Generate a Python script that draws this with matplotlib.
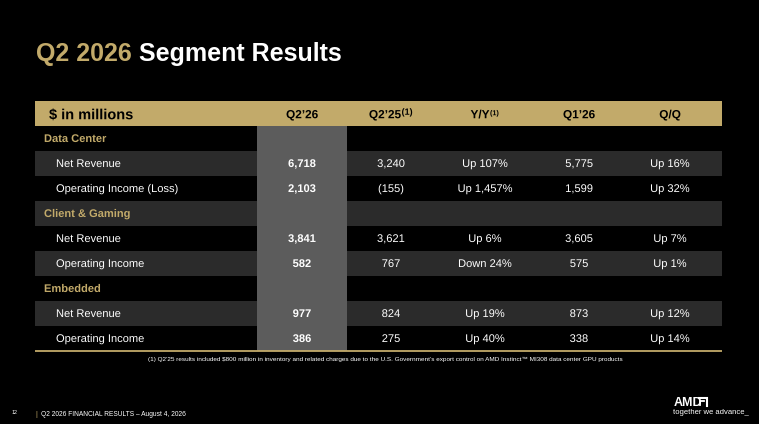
import matplotlib
matplotlib.use("Agg")
import matplotlib.pyplot as plt
import matplotlib.patheffects as pe
from matplotlib.patches import Rectangle

# ---- table data ----
segments = ["Data Center", "Client & Gaming", "Embedded"]
line_items = [
    ["Net Revenue", "Operating Income (Loss)"],
    ["Net Revenue", "Operating Income"],
    ["Net Revenue", "Operating Income"],
]
col_headers = ["Q2\u201926", "Q2\u201925", "Y/Y", "Q1\u201926", "Q/Q"]
col_notes = ["", "(1)", "(1)", "", ""]
q2_26 = ["6,718", "2,103", "3,841", "582", "977", "386"]
q2_25 = ["3,240", "(155)", "3,621", "767", "824", "275"]
yoy = ["Up 107%", "Up 1,457%", "Up 6%", "Down 24%", "Up 19%", "Up 40%"]
q1_26 = ["5,775", "1,599", "3,605", "575", "873", "338"]
qoq = ["Up 16%", "Up 32%", "Up 7%", "Up 1%", "Up 12%", "Up 14%"]
footnote = ("(1) Q2\u201925 results included $800 million in inventory and related charges due to "
            "the U.S. Government\u2019s export control on AMD Instinct\u2122 MI308 data center GPU products")

GOLD = "#c2aa6a"
ROW_GRAY = "#2b2b2b"
HILITE = "#5c5c5c"
FONT = "Liberation Sans"
# draw text as paths so baselines line up exactly
PATH = [pe.Normal()]

W, H = 759, 424
fig = plt.figure(figsize=(W / 100, H / 100), dpi=100, facecolor="black")
ax = fig.add_axes([0, 0, 1, 1])
ax.set_xlim(0, W)
ax.set_ylim(H, 0)
ax.axis("off")
ax.set_facecolor("black")


def cap(pt):
    # approx cap height in pixels for a given point size
    return pt * 100 / 72 * 0.716


# ---- title ----
tpt = 18
tb = 52 + cap(tpt) / 2
t1 = ax.text(36, tb, "Q2 2026", color=GOLD, fontsize=tpt, fontweight="bold",
             family=FONT, va="baseline", ha="left")
fig.canvas.draw()
bb = t1.get_window_extent().transformed(ax.transData.inverted())
ax.text(bb.x1 + 7, tb, "Segment Results", color="white", fontsize=tpt,
        fontweight="bold", family=FONT, va="baseline", ha="left")

# ---- table geometry ----
left, right = 35, 722
top, head_h, row_h = 101, 25, 25
col_x = [302, 391, 485, 579, 670]
hl_x0, hl_x1 = 257, 347

# header band
ax.add_patch(Rectangle((left, top), right - left, head_h, color=GOLD, lw=0))
hc = top + head_h / 2 + 0.5
ax.text(49, hc + cap(10.5) / 2, "$ in millions", fontsize=10.5, fontweight="bold",
        family=FONT, color="black", va="baseline", ha="left", path_effects=PATH)
hb = hc + cap(8.5) / 2
for x, lab, note in zip(col_x, col_headers, col_notes):
    t = ax.text(x, hb, lab, fontsize=8.5, fontweight="bold", family=FONT,
                color="black", va="baseline", ha="center", path_effects=PATH)
    if note:
        fig.canvas.draw()
        b = t.get_window_extent().transformed(ax.transData.inverted())
        big = lab.startswith("Q")
        shift = -6 if big else -5
        t.set_x(x + shift)
        ax.text(b.x1 + shift + 0.5, hb - (3.5 if big else 3), note,
                fontsize=6.5 if big else 5.2, fontweight="bold", family=FONT,
                color="black", va="baseline", ha="left", path_effects=PATH)

# body rows
rows = []
k = 0
for seg, items in zip(segments, line_items):
    rows.append(("seg", seg, None))
    for it in items:
        rows.append(("item", it, k))
        k += 1

y0 = top + head_h
bpt = 8
for i, (kind, label, idx) in enumerate(rows):
    y = y0 + i * row_h
    if i % 2 == 1:
        ax.add_patch(Rectangle((left, y), right - left, row_h, color=ROW_GRAY, lw=0))
    ax.add_patch(Rectangle((hl_x0, y), hl_x1 - hl_x0, row_h, color=HILITE, lw=0))
    by = y + row_h / 2 + cap(bpt) / 2 - 0.5
    if kind == "seg":
        ax.text(44, by, label, fontsize=bpt, fontweight="bold", family=FONT,
                color=GOLD, va="baseline", ha="left", path_effects=PATH)
    else:
        ax.text(56, by, label, fontsize=bpt, family=FONT, color="white",
                va="baseline", ha="left", path_effects=PATH)
        vals = [q2_26[idx], q2_25[idx], yoy[idx], q1_26[idx], qoq[idx]]
        for j, (x, v) in enumerate(zip(col_x, vals)):
            ax.text(x, by, v, fontsize=bpt, family=FONT, color="white",
                    fontweight="bold" if j == 0 else "normal",
                    va="baseline", ha="center", path_effects=PATH)

bottom = y0 + len(rows) * row_h
ax.plot([left, right], [bottom, bottom], color=GOLD, lw=1.3, solid_capstyle="butt")

# footnote
ax.text(385, 359, footnote, fontsize=4.6, family=FONT, color="white",
        va="center", ha="center")

# footer
ax.text(12, 413, "12", fontsize=3.8, family=FONT, color="white", va="center", ha="left")
ax.text(35, 414, "|", fontsize=4.8, family=FONT, color=GOLD, va="center", ha="left")
ax.text(41, 414, "Q2 2026 FINANCIAL RESULTS \u2013 August 4, 2026", fontsize=4.8,
        family=FONT, color="white", va="center", ha="left")

# AMD logo
ax.text(674, 406, "AMD", fontsize=9, fontweight="bold", family=FONT,
        color="white", va="baseline", ha="left")
lx, ly, s = 699, 398, 7.5
ax.plot([lx, lx + s, lx + s], [ly, ly, ly + s], color="white", lw=1.5,
        solid_joinstyle="miter")
ax.plot([lx + s - 2.5, lx + 1, lx + 1], [ly + 2.5, ly + 2.5, ly + s - 1], color="white",
        lw=1.3, solid_joinstyle="miter")
ax.text(673, 413, "together we advance_", fontsize=5.5, family=FONT,
        color="white", va="center", ha="left")

fig.savefig("out.png", dpi=100, facecolor="black")
